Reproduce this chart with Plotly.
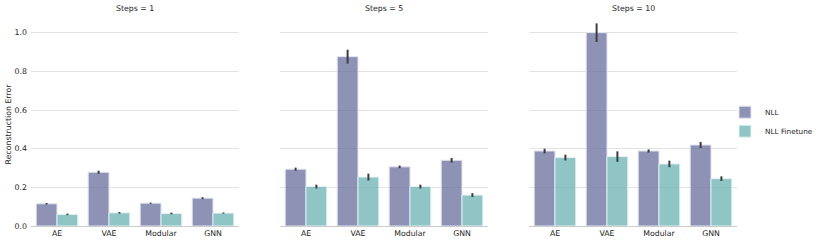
import plotly.graph_objects as go

categories = ["AE", "VAE", "Modular", "GNN"]
steps = [1, 5, 10]
series_names = ["NLL", "NLL Finetune"]

nll = {
    1: [0.115, 0.278, 0.118, 0.144],
    5: [0.294, 0.876, 0.306, 0.340],
    10: [0.388, 1.000, 0.388, 0.419],
}
nll_err = {
    1: [0.004, 0.008, 0.003, 0.005],
    5: [0.008, 0.036, 0.007, 0.012],
    10: [0.012, 0.048, 0.008, 0.016],
}
ft = {
    1: [0.060, 0.068, 0.065, 0.067],
    5: [0.204, 0.253, 0.204, 0.160],
    10: [0.354, 0.359, 0.321, 0.245],
}
ft_err = {
    1: [0.004, 0.004, 0.004, 0.003],
    5: [0.010, 0.018, 0.010, 0.010],
    10: [0.015, 0.027, 0.017, 0.012],
}
y_ticks = [0.0, 0.2, 0.4, 0.6, 0.8, 1.0]

colors = ["rgba(104,111,156,0.75)", "rgba(105,179,178,0.75)"]
edge = ["rgba(225,228,242,1)", "rgba(225,242,242,1)"]

W, H = 818, 244
L, R, T, B = 31, 81, 22.6, 17.7
pw = W - L - R
domains = [(0, 208 / pw), (249 / pw, 457 / pw), (498 / pw, 1.0)]

fig = go.Figure()
font = "DejaVu Sans"
txt = "#262626"
fs = 7.8

for i, s in enumerate(steps):
    ax = "" if i == 0 else str(i + 1)
    for j, (vals, errs) in enumerate([(nll, nll_err), (ft, ft_err)]):
        fig.add_trace(go.Bar(
            x=categories, y=vals[s],
            name=series_names[j],
            legendgroup=series_names[j],
            showlegend=(i == 0),
            marker=dict(color=colors[j], line=dict(color=edge[j], width=1)),
            error_y=dict(type="data", array=errs[s], visible=True,
                         color="#3d3d3d", thickness=2, width=0),
            xaxis="x" + ax, yaxis="y" + ax,
        ))
    xkey = "xaxis" if i == 0 else f"xaxis{i+1}"
    ykey = "yaxis" if i == 0 else f"yaxis{i+1}"
    fig.layout[xkey] = dict(
        domain=list(domains[i]), anchor="y" + ax, range=[-0.5, 3.5],
        showgrid=False, showline=True, linecolor="#cccccc", linewidth=1,
        ticks="", tickfont=dict(family=font, size=fs, color=txt),
        zeroline=False, automargin=False,
    )
    fig.layout[ykey] = dict(
        domain=[0, 1], anchor="x" + ax, range=[0, 1.05],
        tickvals=y_ticks, ticktext=[f"{v:.1f}" for v in y_ticks],
        showticklabels=(i == 0), showgrid=True, gridcolor="#e3e3e3",
        gridwidth=1, zeroline=False, showline=False, ticks="",
        ticklabelstandoff=3,
        tickfont=dict(family=font, size=fs, color=txt), automargin=False,
        title=dict(text="Reconstruction Error" if i == 0 else "",
                   font=dict(family=font, size=fs, color=txt), standoff=1),
    )
    fig.add_annotation(
        text=f"Steps = {s}", xref="paper", yref="paper",
        x=(domains[i][0] + domains[i][1]) / 2, y=1, yshift=15,
        showarrow=False, font=dict(family=font, size=fs, color=txt),
        xanchor="center", yanchor="middle",
    )

fig.update_layout(
    width=W, height=H, barmode="group", bargap=0.2, bargroupgap=0,
    margin=dict(l=L, r=R, t=T, b=B, pad=0, autoexpand=False),
    plot_bgcolor="white", paper_bgcolor="white",
    font=dict(family=font, size=fs, color=txt),
    legend=dict(x=0.983, y=0.514, xanchor="left", yanchor="middle",
                font=dict(family=font, size=7.3, color=txt),
                itemwidth=30, tracegroupgap=0, bgcolor="rgba(0,0,0,0)"),
)

fig.write_html(
    "out.html",
    config={"displayModeBar": False},
    post_script="document.body.style.margin='0';document.body.style.padding='0';document.body.style.overflow='hidden';",
)
